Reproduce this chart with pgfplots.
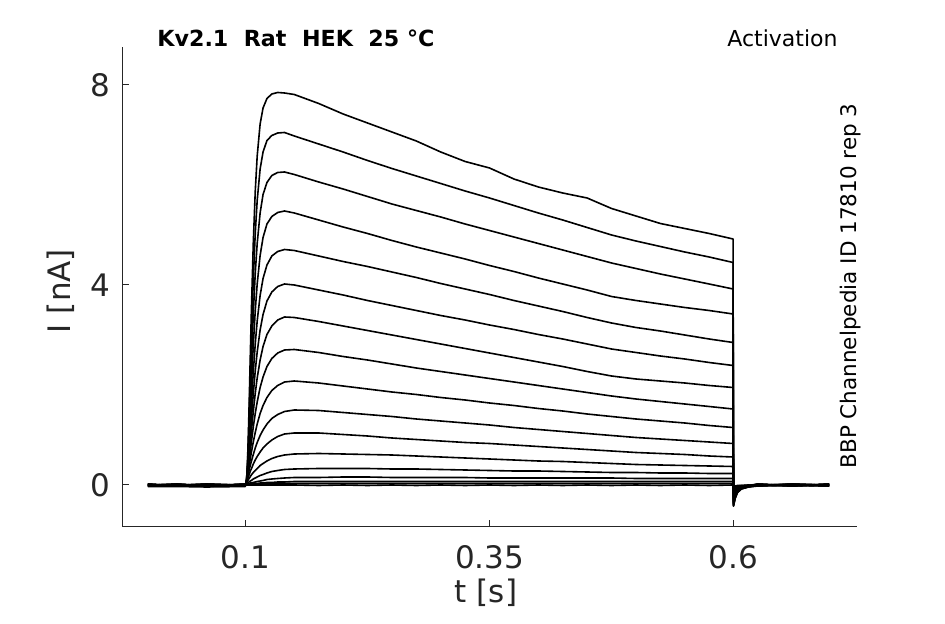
\documentclass[border=0pt]{standalone}
\usepackage{fontspec}
\setmainfont{DejaVu Sans}
\usepackage{pgfplots}
\usepackage{pgfplotstable}
\pgfplotsset{compat=1.18}
\definecolor{axgray}{RGB}{38,38,38}
\pgfplotstableread{
t y1 y2 y3 y4 y5 y6 y7 y8 y9 y10 y11 y12 y13 y14 y15 y16 y17
0 0 0.01 -0.01 0.02 -0.02 0 0.01 -0.01 0.02 -0.02 0 0.01 -0.01 0.02 -0.02 0 -0.03
0.03 0.01 -0.01 0.02 -0.02 0 0.01 -0.01 0.02 -0.02 0 0.01 -0.01 0.02 -0.02 0 -0.01 -0.03
0.06 -0.01 0.02 -0.02 0 0.01 -0.01 0.02 -0.03 0 0.01 -0.01 0.02 -0.02 0 -0.03 -0.02 -0.04
0.0999 0.01 -0.01 0.02 -0.02 0 0.01 -0.01 0.02 -0.02 0 0.01 -0.01 0.02 -0.02 0 0.01 -0.03
0.100 0 0 0 0 0 0 0 0 0 0 0 0 0 0 0 0 0
0.101 0.07 0.07 0.07 0.07 0.07 0.07 0.07 0.07 0.07 0.07 0.05 0.04 0.02 0.01 0 0 0
0.102 0.43 0.38 0.33 0.30 0.26 0.24 0.22 0.20 0.18 0.15 0.11 0.07 0.03 0.02 0 0 0
0.103 1.04 0.90 0.76 0.64 0.54 0.47 0.41 0.36 0.29 0.23 0.17 0.11 0.05 0.02 0.01 0.01 0
0.104 1.82 1.54 1.29 1.06 0.88 0.74 0.62 0.52 0.41 0.32 0.22 0.14 0.07 0.03 0.01 0.01 0
0.105 2.65 2.23 1.85 1.51 1.23 1.01 0.84 0.69 0.53 0.40 0.28 0.17 0.08 0.04 0.01 0.01 0
0.106 3.45 2.91 2.40 1.96 1.58 1.29 1.06 0.85 0.65 0.47 0.32 0.20 0.09 0.04 0.02 0.01 0
0.108 4.84 4.10 3.42 2.79 2.25 1.82 1.47 1.16 0.86 0.61 0.42 0.25 0.12 0.05 0.02 0.01 0
0.110 5.87 5.03 4.23 3.48 2.82 2.28 1.83 1.43 1.05 0.74 0.50 0.29 0.14 0.06 0.03 0.01 0
0.112 6.58 5.69 4.83 4.02 3.28 2.66 2.14 1.66 1.22 0.85 0.57 0.33 0.16 0.07 0.03 0.02 0
0.115 7.22 6.32 5.44 4.59 3.79 3.10 2.50 1.95 1.43 0.99 0.66 0.39 0.19 0.08 0.04 0.02 0
0.118 7.54 6.66 5.81 4.95 4.13 3.41 2.77 2.16 1.59 1.10 0.74 0.43 0.21 0.09 0.04 0.02 0
0.122 7.73 6.89 6.05 5.22 4.40 3.68 3.01 2.37 1.75 1.22 0.82 0.48 0.24 0.11 0.05 0.02 0
0.127 7.82 6.99 6.19 5.37 4.58 3.86 3.18 2.53 1.89 1.33 0.90 0.53 0.27 0.12 0.05 0.02 0
0.133 7.85 7.04 6.25 5.45 4.67 3.97 3.30 2.64 1.99 1.41 0.97 0.57 0.29 0.13 0.06 0.03 0
0.140 7.84 7.05 6.26 5.48 4.71 4.02 3.36 2.70 2.06 1.47 1.02 0.60 0.31 0.14 0.06 0.03 0
0.150 7.81 6.98 6.21 5.44 4.69 4.00 3.35 2.71 2.08 1.50 1.04 0.62 0.32 0.15 0.07 0.03 0
0.175 7.63 6.82 6.06 5.30 4.58 3.90 3.27 2.65 2.04 1.49 1.04 0.63 0.33 0.15 0.07 0.03 -0.01
0.200 7.42 6.66 5.92 5.16 4.47 3.80 3.18 2.57 1.98 1.45 1.01 0.62 0.33 0.16 0.07 0.03 0
0.225 7.24 6.49 5.77 5.03 4.37 3.69 3.09 2.50 1.92 1.41 0.98 0.61 0.33 0.16 0.07 0.03 -0.01
0.250 7.06 6.33 5.62 4.89 4.26 3.59 3.00 2.42 1.86 1.37 0.94 0.60 0.32 0.15 0.07 0.03 0
0.275 6.88 6.18 5.49 4.76 4.15 3.49 2.91 2.34 1.81 1.32 0.91 0.58 0.32 0.15 0.07 0.03 -0.01
0.300 6.66 6.03 5.36 4.64 4.03 3.39 2.82 2.27 1.75 1.28 0.88 0.56 0.31 0.15 0.07 0.03 0
0.325 6.47 5.88 5.22 4.52 3.92 3.30 2.73 2.20 1.70 1.24 0.85 0.54 0.30 0.15 0.07 0.03 -0.01
0.350 6.34 5.74 5.09 4.39 3.81 3.20 2.64 2.13 1.64 1.20 0.83 0.52 0.29 0.14 0.07 0.03 0
0.375 6.12 5.59 4.96 4.27 3.69 3.11 2.55 2.06 1.59 1.15 0.80 0.50 0.28 0.14 0.07 0.03 -0.01
0.400 5.96 5.44 4.83 4.14 3.58 3.01 2.46 1.99 1.53 1.11 0.77 0.48 0.28 0.14 0.07 0.03 0
0.425 5.84 5.30 4.70 4.02 3.47 2.92 2.37 1.92 1.48 1.07 0.74 0.47 0.27 0.14 0.07 0.03 -0.01
0.450 5.74 5.15 4.57 3.90 3.35 2.82 2.27 1.85 1.42 1.03 0.71 0.45 0.26 0.14 0.07 0.03 0
0.475 5.53 5.00 4.44 3.77 3.24 2.72 2.18 1.78 1.37 0.99 0.68 0.43 0.25 0.14 0.07 0.03 -0.01
0.500 5.38 4.88 4.33 3.69 3.15 2.65 2.12 1.72 1.32 0.95 0.65 0.41 0.25 0.13 0.07 0.03 0
0.525 5.23 4.77 4.22 3.62 3.08 2.58 2.08 1.67 1.28 0.92 0.63 0.40 0.24 0.13 0.07 0.03 -0.01
0.550 5.13 4.66 4.12 3.55 3.00 2.52 2.04 1.62 1.24 0.89 0.61 0.39 0.24 0.13 0.07 0.03 0
0.575 5.03 4.56 4.02 3.49 2.92 2.45 1.99 1.57 1.19 0.86 0.58 0.38 0.23 0.13 0.07 0.03 -0.01
0.5995 4.92 4.45 3.92 3.42 2.85 2.39 1.95 1.52 1.15 0.83 0.56 0.37 0.23 0.13 0.07 0.03 0
0.600 -0.42 -0.42 -0.40 -0.38 -0.36 -0.33 -0.30 -0.27 -0.24 -0.21 -0.18 -0.15 -0.12 -0.09 -0.06 -0.04 -0.02
0.6015 -0.28 -0.27 -0.26 -0.25 -0.24 -0.22 -0.20 -0.18 -0.16 -0.14 -0.12 -0.10 -0.08 -0.06 -0.04 -0.03 -0.02
0.604 -0.15 -0.15 -0.14 -0.14 -0.13 -0.12 -0.11 -0.10 -0.09 -0.08 -0.07 -0.06 -0.05 -0.04 -0.03 -0.02 -0.01
0.608 -0.08 -0.08 -0.07 -0.07 -0.07 -0.06 -0.06 -0.05 -0.05 -0.04 -0.04 -0.03 -0.03 -0.02 -0.02 -0.01 -0.01
0.615 -0.04 -0.04 -0.04 -0.03 -0.03 -0.03 -0.03 -0.03 -0.02 -0.02 -0.02 -0.02 -0.01 -0.01 -0.01 -0.01 0
0.625 -0.01 0.01 -0.02 0.02 -0.01 0 0.01 -0.02 0.02 -0.01 0 0.01 -0.01 0.02 -0.02 0 -0.01
0.66 0.01 -0.01 0.02 -0.02 0 0.01 -0.01 0.02 -0.02 0 0.01 -0.01 0.02 -0.02 0 0.01 -0.02
0.698 0 0.01 -0.01 0.02 -0.02 0 0.01 -0.01 0.02 -0.02 0 0.01 -0.01 0.02 -0.02 0 -0.01
}\data
\begin{document}
\begin{tikzpicture}
\path[use as bounding box] (-61pt,-48.65pt) rectangle (411.5pt,263.35pt);
\begin{axis}[
  at={(0pt,0pt)}, anchor=south west,
  scale only axis, width=367.5pt, height=239.85pt,
  xmin=-0.0265, xmax=0.7265, ymin=-0.834, ymax=8.76,
  axis x line=bottom, axis y line=left,
  axis line style={-, draw=axgray, line width=0.5pt},
  tick align=inside, major tick length=3.5pt,
  tick style={draw=axgray, line width=0.5pt},
  xtick={0.1,0.35,0.6}, xticklabels={0.1,0.35,0.6},
  ytick={0,4,8}, yticklabels={0,4,8},
  ticklabel style={font=\fontsize{15.5}{18}\selectfont, text=axgray},
  xticklabel style={yshift=-6pt},
  yticklabel style={xshift=-2.5pt},
]
\pgfplotsinvokeforeach{1,...,17}{
  \addplot[black, line width=0.8pt, line join=round, mark=none] table[x=t, y=y#1]{\data};
}
\end{axis}
\node[rotate=90, anchor=base, font=\fontsize{15.5}{18}\selectfont, text=axgray] at (-25.5pt,117.85pt) {I [nA]};
\node[anchor=base, font=\fontsize{15.5}{18}\selectfont, text=axgray] at (182pt,-38pt) {t [s]};
\node[anchor=base west, inner sep=0pt, font=\fontsize{11.1}{13}\selectfont\bfseries] at (17.5pt,240pt) {Kv2.1~~Rat~~HEK~~25~°C};
\node[anchor=base west, inner sep=0pt, font=\fontsize{11}{13}\selectfont] at (302.5pt,240pt) {Activation};
\node[rotate=90, anchor=base, inner sep=0pt, font=\fontsize{10.75}{13}\selectfont] at (367pt,120.35pt) {BBP Channelpedia ID 17810 rep 3};
\end{tikzpicture}
\end{document}
